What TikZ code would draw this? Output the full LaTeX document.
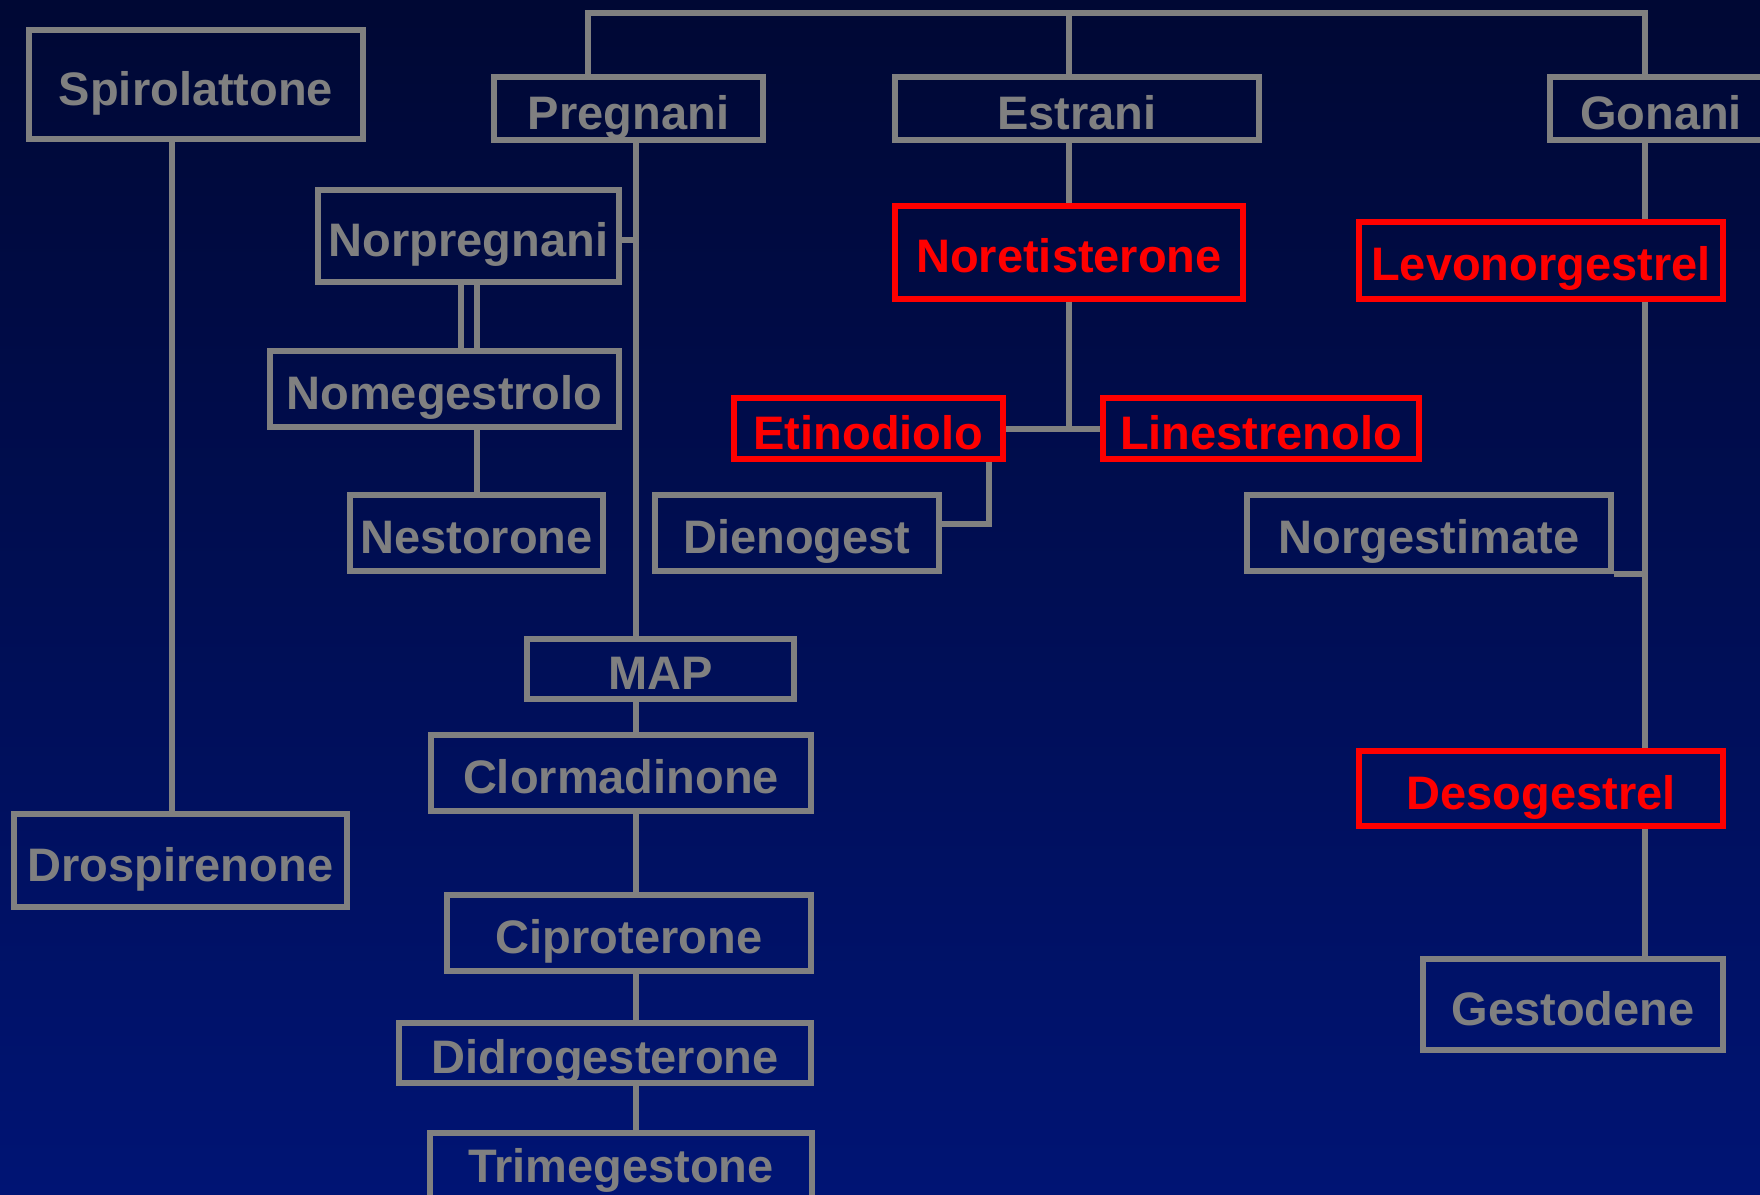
\documentclass[tikz,border=0pt]{standalone}
\usepackage{fontspec}
\setmainfont{Liberation Sans}
\definecolor{bgtop}{RGB}{0,8,52}
\definecolor{bgbot}{RGB}{0,20,116}
\definecolor{lgrey}{RGB}{128,128,128}
\definecolor{hred}{RGB}{255,0,0}
\tikzset{
  gbox/.style={draw=lgrey, line width=6pt, inner sep=0pt, text=lgrey,
    font=\fontsize{47}{50}\selectfont\bfseries, text height=41pt, text depth=0pt},
  rbox/.style={gbox, draw=hred, text=hred},
  conn/.style={draw=lgrey, line width=6pt}
}
\begin{document}
\begin{tikzpicture}[x=1pt,y=-1pt]
\useasboundingbox (0,0) rectangle (1760,1194);
\clip (0,0) rectangle (1760,1194);
\shade[top color=bgtop, bottom color=bgbot] (0,0) rectangle (1760,1194);

% boxes
\node[gbox, minimum width=333.5pt, minimum height=109pt] (spiro) at (196,84.5) {Spirolattone};
\node[gbox, minimum width=269pt, minimum height=63pt] (preg) at (628.5,108.5) {Pregnani};
\node[gbox, minimum width=364pt, minimum height=63pt] (estr) at (1077,108.5) {Estrani};
\node[gbox, minimum width=222pt, minimum height=63pt] (gona) at (1661,108.5) {Gonani};
\node[gbox, minimum width=301pt, minimum height=92.5pt] (norp) at (468.5,236) {Norpregnani};
\node[gbox, minimum width=349pt, minimum height=76pt] (nome) at (444.5,388.5) {Nomegestrolo};
\node[gbox, minimum width=253pt, minimum height=76pt] (nest) at (476.5,533) {Nestorone};
\node[rbox, minimum width=348pt, minimum height=92.6pt] (nore) at (1069,252.3) {Noretisterone};
\node[rbox, minimum width=364pt, minimum height=76.6pt] (levo) at (1541,260.3) {Levonorgestrel};
\node[rbox, minimum width=269pt, minimum height=61pt] (etin) at (868.5,428.5) {Etinodiolo};
\node[rbox, minimum width=316pt, minimum height=61pt] (line) at (1261,428.5) {Linestrenolo};
\node[gbox, minimum width=284pt, minimum height=76pt] (dien) at (797,533) {Dienogest};
\node[gbox, minimum width=364pt, minimum height=76pt] (norg) at (1429,533) {Norgestimate};
\node[gbox, minimum width=267pt, minimum height=60pt] (map) at (660.5,669) {MAP};
\node[gbox, minimum width=380pt, minimum height=76pt] (clor) at (621,773) {Clormadinone};
\node[gbox, minimum width=364pt, minimum height=76pt] (cipr) at (629,933) {Ciproterone};
\node[gbox, minimum width=412pt, minimum height=60pt] (didr) at (605,1053) {Didrogesterone};
\node[gbox, minimum width=382pt, minimum height=72pt, text depth=14pt] (trim) at (621,1169) {Trimegestone};
\node[gbox, minimum width=333pt, minimum height=93pt] (dros) at (180.5,860.5) {Drospirenone};
\node[rbox, minimum width=364pt, minimum height=75pt] (deso) at (1541,788.5) {Desogestrel};
\node[gbox, minimum width=300pt, minimum height=91pt] (gest) at (1573,1004.5) {Gestodene};

% helper coordinates
\coordinate (tl) at (588,13);
\coordinate (tr) at (1645,13);
\coordinate (px) at (636,0);
\coordinate (sx) at (172,0);
\coordinate (d1) at (460.5,0);
\coordinate (ex) at (989,0);

% top bracket
\draw[conn] (preg.north -| tl) -- (tl) -- (tr) -- (gona.north -| tr);
\draw[conn] (estr.north -| nore.north) -- (tl -| nore.north);

% Pregnani branch
\draw[conn] (preg.south -| px) -- (map.north -| px);
\draw[conn] ([yshift=-4pt]norp.east) -- ([yshift=-4pt]norp.east -| px);
\draw[conn] (norp.south -| d1) -- (nome.north -| d1);
\draw[conn] (norp.south -| nest.north) -- (nome.north -| nest.north);
\draw[conn] (nome.south -| nest.north) -- (nest.north);
\draw[conn] (map.south -| px) -- (clor.north -| px);
\draw[conn] (clor.south -| px) -- (cipr.north -| px);
\draw[conn] (cipr.south -| px) -- (didr.north -| px);
\draw[conn] (didr.south -| px) -- (trim.north -| px);

% Spirolattone
\draw[conn] (spiro.south -| sx) -- (dros.north -| sx);

% Estrani branch
\draw[conn] (estr.south -| nore.north) -- (nore.north);
\draw[conn] (nore.south) -- (nore.south |- etin.east);
\draw[conn] (etin.east) -- (line.west);
\draw[conn] (etin.south -| ex) |- ([yshift=9pt]dien.east);

% Gonani branch
\draw[conn] (gona.south -| tr) -- (levo.north -| tr);
\draw[conn] (levo.south -| tr) -- (deso.north -| tr);
\draw[conn] (norg.south east) -- (norg.south east -| tr);
\draw[conn] (deso.south -| tr) -- (gest.north -| tr);
\end{tikzpicture}
\end{document}
